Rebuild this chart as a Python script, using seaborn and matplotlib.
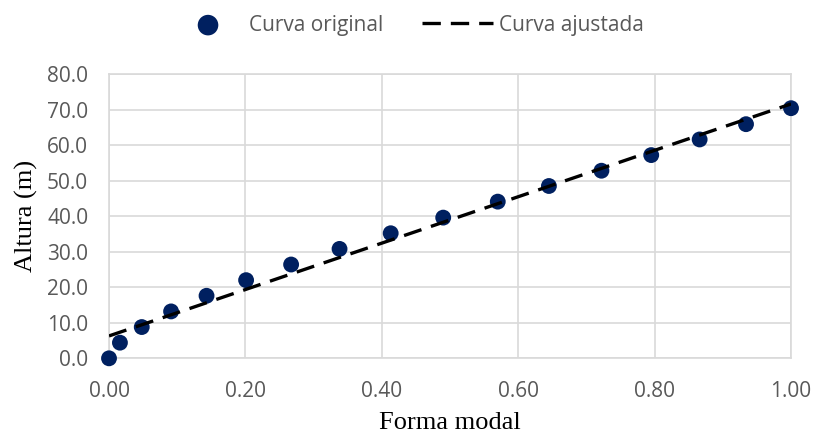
import matplotlib
matplotlib.use("Agg")
import matplotlib.pyplot as plt
import seaborn as sns
import pandas as pd

# Datos
forma_modal = [0.000, 0.016, 0.048, 0.091, 0.143, 0.201, 0.267, 0.338, 0.413,
               0.490, 0.570, 0.645, 0.722, 0.795, 0.866, 0.934, 1.000]
altura = [0.0, 4.4, 8.8, 13.2, 17.6, 22.0, 26.4, 30.8, 35.2,
          39.6, 44.1, 48.5, 52.8, 57.2, 61.6, 65.9, 70.4]

# Curva ajustada (extremos)
ajuste_x = [0.0, 1.0]
ajuste_y = [6.3, 71.6]

x_ticks = [0.0, 0.2, 0.4, 0.6, 0.8, 1.0]
y_ticks = [0, 10, 20, 30, 40, 50, 60, 70, 80]

sns.set_theme(style="whitegrid")
plt.rcParams['font.family'] = ['Open Sans', 'DejaVu Sans']

df_orig = pd.DataFrame({'x': forma_modal, 'y': altura})
df_fit = pd.DataFrame({'x': ajuste_x, 'y': ajuste_y})

fig = plt.figure(figsize=(8.16, 4.41), dpi=100)
ax = fig.add_axes([0.1336, 0.1875, 0.8358, 0.6445])

sns.scatterplot(data=df_orig, x='x', y='y', ax=ax, color='#002060', s=130,
                edgecolor='none', label='Curva original', zorder=3)
ax.collections[0].set_clip_on(False)
sns.lineplot(data=df_fit, x='x', y='y', ax=ax, color='black', linewidth=2.4,
             dashes=False, label='Curva ajustada', zorder=4)
ax.lines[0].set_dashes((5.5, 3.0))

ax.set_xlim(0, 1)
ax.set_ylim(0, 80)
ax.set_xticks(x_ticks)
ax.set_yticks(y_ticks)
ax.set_xticklabels([f"{v:.2f}" for v in x_ticks])
ax.set_yticklabels([f"{v:.1f}" for v in y_ticks])
ax.tick_params(axis='both', length=0, labelsize=15, labelcolor='#595959')
ax.tick_params(axis='x', pad=16)
ax.tick_params(axis='y', pad=15)

ax.grid(True, color='#d9d9d9', linewidth=1.2)
for sp in ax.spines.values():
    sp.set_visible(True)
    sp.set_color('#d9d9d9')
    sp.set_linewidth(1.2)

ax.set_xlabel('Forma modal', fontsize=19, fontfamily='Liberation Serif', color='black')
ax.set_ylabel('Altura (m)', fontsize=19, fontfamily='Liberation Serif', color='black')
ax.xaxis.set_label_coords(0.5, -0.19)
ax.yaxis.set_label_coords(-0.104, 0.5)

handles, labels = ax.get_legend_handles_labels()
ax.get_legend().remove()
leg = fig.legend(handles, labels, loc='upper center', bbox_to_anchor=(0.5, 1.0), ncol=2,
                 frameon=False, fontsize=15, labelcolor='#595959', handlelength=3.4,
                 handletextpad=0.25, columnspacing=1.9, borderaxespad=0.3,
                 markerscale=1.3)

plt.savefig('out.png', dpi=100)
